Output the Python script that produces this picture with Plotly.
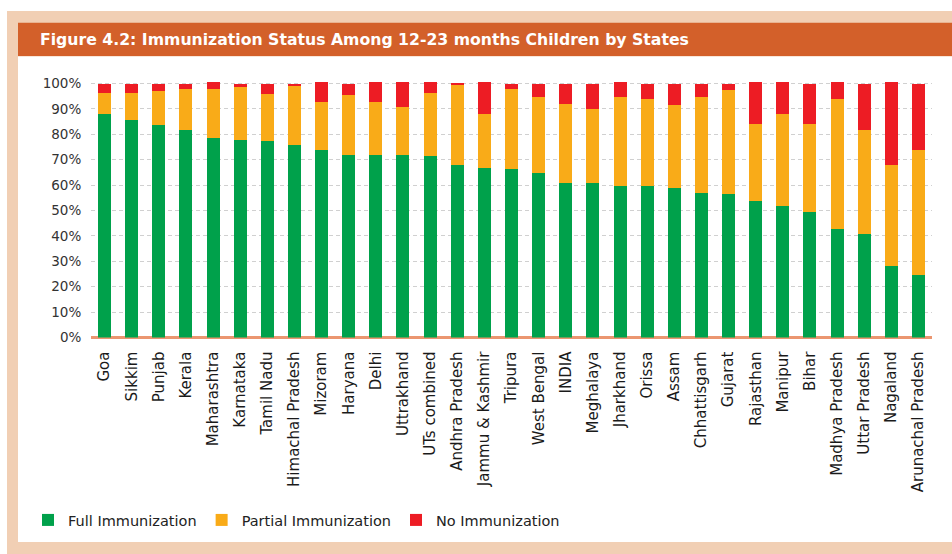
import plotly.graph_objects as go

states = ["Goa", "Sikkim", "Punjab", "Kerala", "Maharashtra", "Karnataka", "Tamil Nadu",
          "Himachal Pradesh", "Mizoram", "Haryana", "Delhi", "Uttrakhand", "UTs combined",
          "Andhra Pradesh", "Jammu & Kashmir", "Tripura", "West Bengal", "INDIA", "Meghalaya",
          "Jharkhand", "Orissa", "Assam", "Chhattisgarh", "Gujarat", "Rajasthan", "Manipur",
          "Bihar", "Madhya Pradesh", "Uttar Pradesh", "Nagaland", "Arunachal Pradesh"]

full_imm = [88.1, 85.6, 83.7, 81.7, 78.5, 77.8, 77.2, 75.9, 73.9, 71.9, 71.9, 71.9, 71.3,
            68.0, 66.9, 66.2, 64.9, 61.0, 61.0, 59.7, 59.7, 59.0, 57.1, 56.4, 53.8, 51.9,
            49.4, 42.9, 40.9, 28.0, 24.7]
partial_imm = [8.2, 10.8, 13.3, 16.2, 19.4, 20.8, 18.8, 23.3, 18.8, 23.4, 20.8, 18.8, 25.1,
               31.6, 21.2, 31.7, 29.8, 31.0, 29.1, 35.0, 34.3, 32.4, 37.6, 40.9, 30.4, 36.2,
               34.8, 51.1, 40.7, 40.0, 49.2]
no_imm = [3.6, 3.5, 2.9, 2.0, 2.6, 1.3, 3.9, 0.7, 7.8, 4.6, 7.8, 9.8, 4.1,
          0.8, 12.4, 2.0, 5.2, 7.9, 9.8, 5.8, 5.9, 8.5, 5.2, 2.6, 16.3, 12.4,
          15.7, 6.5, 18.3, 32.5, 26.0]

y_ticks = [0, 10, 20, 30, 40, 50, 60, 70, 80, 90, 100]
y_tick_labels = [f"{v}%" for v in y_ticks]

title_text = "Figure 4.2: Immunization Status Among 12-23 months Children by States"

W, H = 952, 554
ml, mr, mt, mb = 91, 20, 80.7, 214.3
pw, ph = W - ml - mr, H - mt - mb


def px(x):
    return (x - ml) / pw


def py(y):
    return 1 - (y - mt) / ph


FONT = "DejaVu Sans"

fig = go.Figure()
series = [("Full Immunization", full_imm, "#00a14b"),
          ("Partial Immunization", partial_imm, "#f9ab18"),
          ("No Immunization", no_imm, "#ed1c24")]
for name, vals, col in series:
    fig.add_trace(go.Bar(x=states, y=vals, name=name, marker=dict(color=col, line=dict(width=0)),
                         width=0.48, hoverinfo="x+y+name"))

shapes = [
    dict(type="rect", xref="paper", yref="paper", x0=px(7), x1=px(1000), y0=py(10), y1=py(600),
         fillcolor="#f1cfb4", line=dict(width=0), layer="below"),
    dict(type="rect", xref="paper", yref="paper", x0=px(18), x1=px(1000), y0=py(56), y1=py(546),
         fillcolor="#ffffff", line=dict(width=0), layer="below"),
    dict(type="rect", xref="paper", yref="paper", x0=px(18), x1=px(1000), y0=py(22), y1=py(55.5),
         fillcolor="#d3602a", line=dict(width=0), layer="below"),
]

fig.update_layout(
    width=W, height=H,
    margin=dict(l=ml, r=mr, t=mt, b=mb, pad=0),
    barmode="stack",
    paper_bgcolor="#ffffff",
    plot_bgcolor="rgba(0,0,0,0)",
    font=dict(family=FONT, color="#222222"),
    shapes=shapes,
    showlegend=True,
    legend=dict(orientation="h", xref="container", yref="container",
                x=28 / W, y=1 - 520 / H, xanchor="left", yanchor="middle",
                font=dict(family=FONT, size=14.5, color="#222222"),
                bgcolor="rgba(0,0,0,0)", borderwidth=0, traceorder="normal"),
    annotations=[dict(text=title_text, xref="paper", yref="paper", x=px(38), y=py(39),
                      xanchor="left", yanchor="middle", showarrow=False,
                      font=dict(family=FONT, size=15.7, color="#ffffff", weight="bold"))],
)
fig.update_xaxes(tickangle=-90, tickfont=dict(family=FONT, size=15, color="#1a1a1a"),
                 showgrid=False, ticks="outside", ticklen=7, tickcolor="rgba(0,0,0,0)",
                 range=[-0.5, len(states) - 0.5], showline=False, zeroline=False)
fig.update_yaxes(range=[0, 101], tickvals=y_ticks, ticktext=y_tick_labels,
                 tickfont=dict(family=FONT, size=13.5, color="#333333"),
                 showgrid=True, gridcolor="#d0d0d0", griddash="4px,3px", gridwidth=1,
                 zeroline=True, zerolinecolor="#eb9670", zerolinewidth=2.5,
                 ticks="outside", ticklen=6, tickcolor="rgba(0,0,0,0)")

fig.write_html(
    "out.html",
    config={"displayModeBar": False},
    post_script="document.documentElement.style.overflow='hidden';"
                "document.body.style.margin='0px';document.body.style.overflow='hidden';",
)
